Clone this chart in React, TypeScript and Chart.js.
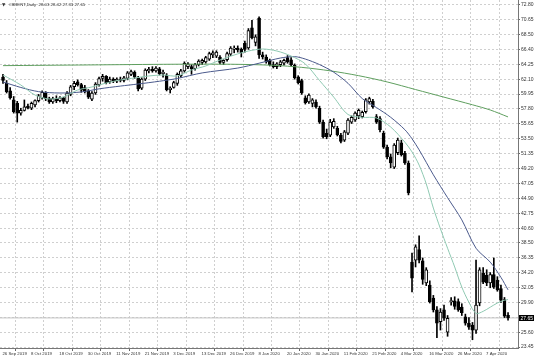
import { useEffect, useRef } from 'react';
import { Chart, registerables } from 'chart.js';

Chart.register(...registerables);

// ---- data ----
const opens = [
  62.4, 61.5, 60.4, 59.1, 58.6, 57.2, 57.6, 58.2, 57.9, 58.4, 59.0, 59.4, 60.1, 59.3, 58.8, 59.3, 59.0, 59.4, 58.8, 59.9,
  61.0, 61.7, 61.3, 60.9, 60.4, 59.2, 60.1, 61.3, 62.2, 62.5, 61.7, 62.1, 61.8, 62.1, 61.9, 62.2, 62.8, 63.1, 62.3, 60.8,
  62.1, 63.3, 63.5, 63.3, 63.6, 62.9, 62.7, 60.6, 60.9, 61.5, 62.6, 63.3, 63.9, 63.9, 63.6, 64.2, 64.5, 64.6, 65.0, 65.6,
  65.4, 65.3, 64.5, 64.9, 65.7, 66.4, 66.6, 66.4, 67.3, 66.6, 69.5, 67.4, 70.9, 65.6, 65.3, 64.8, 64.2, 63.9, 64.2, 64.4,
  65.2, 64.9, 64.1, 62.4, 61.9, 59.4, 58.8, 58.6, 58.8, 57.9, 55.9, 54.3, 54.0, 55.2, 55.0, 54.0, 53.3, 54.3, 55.9, 56.2,
  56.8, 56.7, 57.4, 58.8, 58.9, 56.7, 56.4, 54.3, 52.3, 50.9, 49.4, 51.5, 52.9, 51.4, 50.0, 35.7, 36.0, 37.5, 35.9, 32.7,
  32.4, 30.5, 28.8, 27.1, 28.8, 25.6, 30.0, 30.1, 30.0, 29.2, 27.8, 26.9, 26.6, 25.9, 29.8, 34.1, 33.8, 32.7, 33.9, 33.1,
  31.9, 30.3, 28.03,
];
const highs = [
  62.8, 61.9, 60.9, 59.6, 58.9, 57.9, 59.1, 58.5, 58.8, 59.1, 59.9, 60.4, 60.3, 59.5, 59.5, 59.7, 59.6, 59.5, 60.3, 61.2,
  61.8, 62.0, 61.5, 61.2, 60.6, 60.3, 61.6, 62.4, 62.8, 62.6, 62.4, 62.3, 62.3, 62.4, 62.5, 63.2, 63.4, 63.3, 62.5, 62.3,
  63.6, 63.8, 63.9, 63.9, 63.8, 63.4, 62.9, 61.0, 61.8, 63.0, 63.5, 64.6, 64.5, 64.2, 64.4, 64.9, 65.0, 65.4, 66.0, 66.2,
  66.2, 65.5, 64.9, 66.0, 66.8, 66.9, 66.9, 66.6, 67.6, 69.4, 70.6, 68.5, 71.1, 66.0, 65.6, 65.0, 64.6, 64.5, 64.8, 65.0,
  65.5, 65.2, 64.3, 62.6, 62.1, 59.7, 60.0, 59.3, 59.1, 58.2, 56.2, 54.9, 56.3, 56.4, 55.3, 54.3, 54.7, 56.4, 56.8, 57.4,
  57.8, 57.5, 59.3, 59.5, 59.2, 57.0, 56.7, 54.6, 52.6, 51.3, 52.8, 53.6, 53.3, 51.7, 50.3, 37.0, 38.2, 39.5, 36.3, 34.9,
  33.0, 30.9, 29.3, 29.0, 29.5, 28.0, 30.6, 30.7, 30.4, 29.7, 28.2, 27.7, 27.0, 36.0, 34.9, 34.9, 34.6, 34.2, 36.3, 33.6,
  32.4, 30.6, 28.42,
];
const lows = [
  61.5, 60.1, 59.2, 57.2, 55.9, 56.9, 57.5, 57.8, 57.7, 58.1, 58.8, 59.2, 59.0, 58.6, 58.6, 58.7, 58.8, 58.6, 58.6, 59.7,
  60.6, 61.1, 60.2, 60.1, 59.3, 59.0, 59.9, 61.1, 61.8, 61.4, 61.5, 61.6, 61.6, 61.7, 61.7, 62.0, 62.6, 62.2, 60.4, 60.6,
  61.9, 63.0, 63.1, 63.1, 62.7, 62.4, 60.4, 60.1, 60.8, 61.2, 62.4, 63.1, 63.6, 62.8, 63.4, 64.0, 64.2, 64.4, 64.8, 65.2,
  65.2, 64.3, 64.2, 64.7, 65.5, 65.9, 66.0, 65.3, 66.0, 66.4, 67.9, 66.9, 65.1, 65.0, 64.4, 64.0, 63.7, 63.6, 63.9, 64.1,
  64.4, 64.0, 62.1, 61.4, 59.9, 58.5, 58.6, 58.1, 57.9, 55.7, 53.6, 53.5, 53.8, 55.0, 53.9, 52.9, 53.1, 54.1, 55.7, 56.0,
  56.4, 56.5, 57.2, 58.5, 57.9, 55.7, 54.5, 52.1, 50.6, 49.3, 49.2, 51.2, 51.0, 49.8, 45.4, 31.4, 35.0, 35.6, 32.5, 32.3,
  29.8, 28.5, 24.8, 25.9, 27.3, 25.0, 29.5, 28.9, 28.6, 28.0, 26.6, 26.0, 24.5, 25.4, 29.4, 32.6, 32.3, 32.0, 31.9, 31.5,
  29.9, 27.7, 27.33,
];
const closes = [
  61.9, 60.3, 59.4, 57.4, 57.2, 57.6, 58.1, 57.9, 58.6, 59.0, 59.7, 60.2, 59.3, 58.8, 59.3, 59.0, 59.4, 58.9, 60.1, 61.0,
  61.5, 61.3, 60.5, 60.3, 59.5, 60.1, 61.4, 62.2, 62.5, 61.6, 62.1, 61.8, 62.1, 61.9, 62.3, 63.0, 63.2, 62.4, 60.7, 62.1,
  63.4, 63.5, 63.3, 63.7, 62.9, 63.1, 60.6, 60.8, 61.6, 62.8, 63.3, 64.4, 64.3, 63.6, 64.2, 64.7, 64.8, 65.2, 65.8, 65.9,
  66.0, 64.5, 64.8, 65.8, 66.6, 66.6, 66.3, 65.9, 66.4, 69.1, 68.1, 68.2, 65.6, 65.3, 64.6, 64.2, 63.9, 64.3, 64.6, 64.8,
  64.6, 64.2, 62.3, 61.6, 60.1, 58.7, 59.8, 59.1, 58.1, 55.9, 53.8, 53.8, 55.9, 56.0, 54.1, 53.1, 54.5, 56.2, 56.6, 57.2,
  57.6, 57.3, 59.1, 59.3, 58.1, 55.9, 54.8, 52.3, 50.9, 50.0, 52.6, 53.3, 51.2, 50.0, 45.7, 33.4, 37.9, 36.0, 33.2, 34.6,
  30.0, 28.8, 26.9, 28.5, 27.6, 27.6, 30.1, 29.3, 28.8, 28.4, 26.9, 26.3, 25.9, 29.5, 34.6, 32.8, 32.7, 33.9, 32.1, 31.7,
  30.2, 27.9, 27.65,
];

const dateLabels = [
  '26 Sep 2019', '8 Oct 2019', '18 Oct 2019', '30 Oct 2019', '11 Nov 2019', '21 Nov 2019',
  '3 Dec 2019', '13 Dec 2019', '26 Dec 2019', '8 Jan 2020', '20 Jan 2020', '30 Jan 2020',
  '11 Feb 2020', '21 Feb 2020', '4 Mar 2020', '16 Mar 2020', '26 Mar 2020', '7 Apr 2020',
];
const barsPerDateTick = 8;

const priceTicks = [
  72.8, 70.65, 68.5, 66.4, 64.25, 62.1, 59.95, 57.8, 55.65, 53.5, 51.35, 49.2,
  47.05, 44.9, 42.75, 40.6, 38.5, 36.35, 34.2, 32.05, 29.9, 27.75, 25.6, 23.45,
];

// moving averages at sample bars
const fastMaBars = [0, 5, 9, 13, 17, 21, 25, 29, 33, 37, 41, 45, 49, 53, 57, 61, 65, 69, 73, 77, 81, 85, 89, 93, 97, 101, 105, 109, 113, 115, 117, 119, 121, 123, 125, 127, 129, 131, 133, 135, 137, 139, 141, 142];
const fastMaValues = [62.7, 61.26, 59.81, 59.24, 59.53, 60.53, 60.97, 61.54, 61.98, 62.27, 62.56, 62.7, 62.56, 63.42, 64.0, 64.86, 65.58, 66.16, 66.45, 66.16, 65.44, 64.3, 61.9, 59.5, 57.0, 56.6, 56.5, 55.2, 53.0, 51.6, 49.7, 47.0, 43.5, 40.5, 37.7, 35.0, 32.1, 29.9, 28.3, 28.6, 29.2, 29.8, 30.2, 30.3];

const midMaBars = [0, 5, 10, 16, 22, 27, 33, 38, 44, 49, 56, 66, 72, 78, 82, 85, 89, 93, 97, 101, 105, 109, 113, 115, 117, 121, 125, 129, 133, 137, 140, 142];
const midMaValues = [61.7, 60.9, 60.3, 60.1, 60.25, 60.7, 61.1, 61.4, 61.8, 62.2, 63.0, 63.7, 64.4, 65.15, 65.35, 65.0, 64.2, 63.1, 61.5, 59.3, 58.0, 56.6, 54.8, 53.5, 51.9, 48.3, 45.0, 41.8, 37.7, 35.7, 33.5, 31.7];

const slowMaBars = [0, 24, 48, 64, 76, 84, 92, 100, 108, 116, 124, 132, 137, 142];
const slowMaValues = [64.05, 64.15, 64.25, 64.25, 64.1, 63.8, 63.3, 62.6, 61.7, 60.6, 59.5, 58.4, 57.65, 56.65];

const lastPrice = 27.65;
const titleText = '#BRENT,Daily  28.03 28.42 27.33 27.65';

const FONT = '"Liberation Sans", Arial, sans-serif';

export default function App() {
  const ref = useRef<HTMLCanvasElement>(null);

  useEffect(() => {
    document.body.style.margin = '0';
    const canvas = ref.current;
    if (!canvas) return;
    const idx = opens.map((_, i) => i);

    const overlay = {
      id: 'overlay',
      afterDraw(chart: any) {
        const { ctx, chartArea, scales } = chart;
        ctx.save();
        const y = scales.y.getPixelForValue(lastPrice);
        ctx.fillStyle = '#000';
        ctx.fillRect(chartArea.right + 1, Math.round(y) - 3, 15, 6);
        ctx.fillStyle = '#fff';
        ctx.font = `5px ${FONT}`;
        ctx.textBaseline = 'middle';
        ctx.textAlign = 'left';
        ctx.fillText(lastPrice.toFixed(2), chartArea.right + 2.5, Math.round(y) + 0.2);
        ctx.fillStyle = '#333';
        ctx.font = `4.3px "DejaVu Sans", sans-serif`;
        ctx.fillText('▼', 2, 5);
        ctx.font = `4.3px ${FONT}`;
        ctx.fillText(titleText, 9, 5);
        ctx.restore();
      },
    };

    const chart = new Chart(canvas, {
      type: 'bar',
      data: {
        datasets: [
          {
            type: 'line', label: 'fast', order: 0,
            data: fastMaBars.map((b, k) => ({ x: b, y: fastMaValues[k] })),
            borderColor: '#8fc9b2', borderWidth: 1, pointRadius: 0, tension: 0.3,
          },
          {
            type: 'line', label: 'mid', order: 1,
            data: midMaBars.map((b, k) => ({ x: b, y: midMaValues[k] })),
            borderColor: '#4b5a8c', borderWidth: 1, pointRadius: 0, tension: 0.3,
          },
          {
            type: 'line', label: 'slow', order: 2,
            data: slowMaBars.map((b, k) => ({ x: b, y: slowMaValues[k] })),
            borderColor: '#5f9f5f', borderWidth: 1, pointRadius: 0, tension: 0.3,
          },
          {
            type: 'bar', label: 'bodies', order: 4,
            data: idx.map((i) => ({ x: i, y: [opens[i], closes[i]] })),
            backgroundColor: idx.map((i) => (closes[i] >= opens[i] ? '#ffffff' : '#000000')),
            borderColor: '#000', borderWidth: 1, borderSkipped: false,
            barThickness: 3, minBarLength: 1, grouped: false,
          },
          {
            type: 'bar', label: 'wicks', order: 5,
            data: idx.map((i) => ({ x: i, y: [lows[i], highs[i]] })),
            backgroundColor: '#000', borderWidth: 0, barThickness: 1, grouped: false,
          },
          {
            type: 'line', label: 'bid', order: 6,
            data: [{ x: -1, y: lastPrice }, { x: 146, y: lastPrice }],
            borderColor: '#c4c4c4', borderWidth: 1, pointRadius: 0,
          },
        ] as any,
      },
      options: {
        animation: false,
        responsive: false,
        devicePixelRatio: 1,
        layout: { padding: 0, autoPadding: false } as any,
        plugins: { legend: { display: false }, tooltip: { enabled: false }, title: { display: false } },
        events: [],
        scales: {
          x: {
            type: 'linear', min: -0.85, max: 144.8, offset: false,
            afterBuildTicks: (s: any) => {
              s.ticks = dateLabels.map((_, k) => ({ value: k * barsPerDateTick - 0.5 }));
            },
            afterFit: (s: any) => { s.height = 9; s.paddingLeft = 0; s.paddingRight = 0; },
            ticks: {
              autoSkip: false, maxRotation: 0, minRotation: 0, align: 'start', padding: 0,
              color: '#333', font: { size: 4.3, family: FONT },
              callback: (_v: any, i: number) => ' ' + dateLabels[i],
            },
            grid: { color: '#cfcfcf', tickLength: 3, tickColor: '#666', lineWidth: 1 },
            border: { display: true, color: '#777', dash: [2, 2] },
          } as any,
          y: {
            type: 'linear', position: 'right', min: 23.31, max: 73.52,
            afterBuildTicks: (s: any) => { s.ticks = priceTicks.map((v) => ({ value: v })); },
            afterFit: (s: any) => { s.width = 18; s.paddingTop = 0; s.paddingBottom = 0; },
            ticks: {
              autoSkip: false, padding: 1, color: '#333', font: { size: 5, family: FONT },
              callback: (v: any) => Number(v).toFixed(2),
            },
            grid: { color: '#cfcfcf', tickLength: 2, tickColor: '#666', lineWidth: 1 },
            border: { display: true, color: '#777', dash: [2, 2] },
          } as any,
        },
      },
      plugins: [overlay],
    });
    return () => chart.destroy();
  }, []);

  return <canvas ref={ref} width={536} height={357} style={{ display: 'block' }} />;
}
